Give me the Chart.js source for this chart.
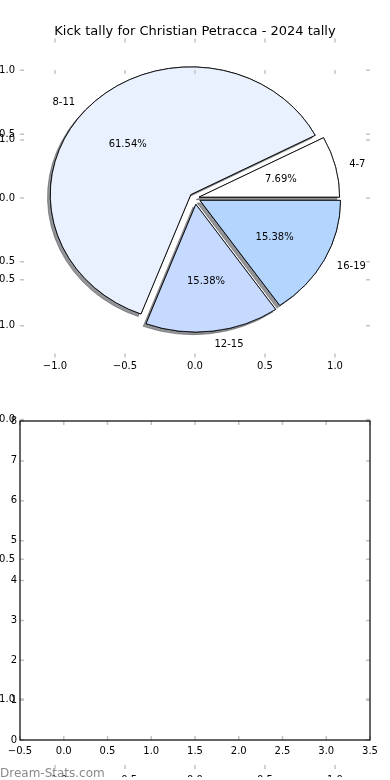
<!DOCTYPE html>
<html>
<head>
<meta charset="utf-8">
<script src="https://cdn.jsdelivr.net/npm/chart.js@4.4.1/dist/chart.umd.min.js"></script>
<style>
  html, body { margin: 0; padding: 0; background: #fff; }
  #wrap { position: relative; width: 390px; height: 780px; overflow: hidden; }
  #wrap canvas { position: absolute; left: 0; top: 0; }
</style>
</head>
<body>
<div id="wrap">
  <canvas id="pie-chart" width="390" height="780"></canvas>
  <canvas id="pie-axes" width="390" height="400"></canvas>
  <canvas id="fig-axes" width="390" height="780"></canvas>
  <canvas id="bar-chart" width="390" height="780"></canvas>
</div>
<script>
const chartTitle = 'Kick tally for Christian Petracca - 2024 tally';
const kickRanges = ['4-7', '8-11', '12-15', '16-19'];
const kickCounts = [1, 8, 2, 2];
const sliceColors = ['#ffffff', '#eaf1fe', '#c6d9fe', '#b4d5fe'];
const explodeAmounts = [0.03, 0.04, 0.05, 0.04];
const pieTicks = [-1.0, -0.5, 0.0, 0.5, 1.0];
const barXTicks = [-0.5, 0.0, 0.5, 1.0, 1.5, 2.0, 2.5, 3.0, 3.5];
const barYTicks = [0, 1, 2, 3, 4, 5, 6, 7, 8];
const barPositions = [0, 1, 2, 3];
const barValues = [0, 0, 0, 0];
const watermark = 'Dream-Stats.com';

// pie axes are not equal-aspect: 140.5px per unit across, 127.7px per unit down
const PIE_RADIUS = 140.5;
const PIE_Y_SCALE = 127.7 / 140.5;
const TICK_COLOR = '#c4c4c4';

Chart.defaults.font.family = '"DejaVu Sans", sans-serif';
Chart.defaults.font.size = 10;
Chart.defaults.color = '#000';

// matplotlib walks counter-clockwise from 3 o'clock, Chart.js walks clockwise
const order = kickRanges.map((_, i) => i).reverse();

function fmt1(v) {
  return v.toFixed(1).replace('-', '\u2212');
}

const explodedPie = {
  id: 'explodedPie',
  beforeDatasetsDraw(chart) {
    const ctx = chart.ctx;
    const arcs = chart.getDatasetMeta(0).data;
    const paint = (withShadow) => {
      arcs.forEach((arc, j) => {
        const mid = (arc.startAngle + arc.endAngle) / 2;
        const shift = explodeAmounts[order[j]] * arc.outerRadius;
        ctx.save();
        if (withShadow) {
          ctx.shadowColor = 'rgba(60, 62, 68, 0.55)';
          ctx.shadowOffsetX = -2.8;
          ctx.shadowOffsetY = 2.6;
          ctx.shadowBlur = 0;
        }
        ctx.translate(arc.x, arc.y);
        ctx.scale(1, PIE_Y_SCALE);
        ctx.translate(-arc.x, -arc.y);
        ctx.translate(Math.cos(mid) * shift, Math.sin(mid) * shift);
        arc.draw(ctx);
        ctx.restore();
      });
    };
    paint(true);
    paint(false);
    return false;
  },
  afterDraw(chart) {
    const ctx = chart.ctx;
    const arcs = chart.getDatasetMeta(0).data;
    const total = kickCounts.reduce((a, b) => a + b, 0);
    ctx.save();
    ctx.font = '10px "DejaVu Sans"';
    ctx.fillStyle = '#000';
    ctx.textBaseline = 'middle';
    arcs.forEach((arc, j) => {
      const i = order[j];
      const mid = (arc.startAngle + arc.endAngle) / 2;
      const r = arc.outerRadius;
      const at = (f) => ({
        x: arc.x + Math.cos(mid) * (f + explodeAmounts[i]) * r,
        y: arc.y + Math.sin(mid) * (f + explodeAmounts[i]) * r * PIE_Y_SCALE + 1,
      });
      const p = at(0.6);
      ctx.textAlign = 'center';
      ctx.fillText(((kickCounts[i] / total) * 100).toFixed(2) + '%', p.x, p.y);
      const q = at(1.1);
      ctx.textAlign = Math.cos(mid) >= 0 ? 'left' : 'right';
      ctx.fillText(kickRanges[i], q.x, q.y);
    });
    ctx.restore();
  },
};

// matplotlib classic ticks: short, inward, on all four sides
const innerTicks = {
  id: 'innerTicks',
  afterDraw(chart) {
    const { ctx, chartArea: a, scales } = chart;
    const len = 4;
    ctx.save();
    ctx.strokeStyle = TICK_COLOR;
    ctx.lineWidth = 1.5;
    ctx.beginPath();
    scales.x.ticks.forEach((t) => {
      const px = scales.x.getPixelForValue(t.value);
      ctx.moveTo(px, a.top);
      ctx.lineTo(px, a.top + len);
      ctx.moveTo(px, a.bottom);
      ctx.lineTo(px, a.bottom - len);
    });
    scales.y.ticks.forEach((t) => {
      const py = scales.y.getPixelForValue(t.value);
      ctx.moveTo(a.left, py);
      ctx.lineTo(a.left + len, py);
      ctx.moveTo(a.right, py);
      ctx.lineTo(a.right - len, py);
    });
    ctx.stroke();
    ctx.restore();
  },
};

const frameAndMark = {
  id: 'frameAndMark',
  afterDraw(chart) {
    const { ctx, chartArea: a } = chart;
    ctx.save();
    ctx.strokeStyle = '#000';
    ctx.lineWidth = 1.2;
    ctx.strokeRect(a.left, a.top, a.right - a.left, a.bottom - a.top);
    ctx.font = '12px "DejaVu Sans"';
    ctx.fillStyle = '#8a8a8a';
    ctx.textAlign = 'left';
    ctx.textBaseline = 'alphabetic';
    ctx.fillText(watermark, 0, 777);
    ctx.restore();
  },
};

function linearAxis(min, max, tickValues, format, pad, size, vertical) {
  return {
    type: 'linear',
    min,
    max,
    offset: false,
    grid: { display: false, drawTicks: false, offset: false },
    border: { display: false },
    afterBuildTicks: (scale) => {
      scale.ticks = tickValues.map((v) => ({ value: v }));
    },
    afterFit: (scale) => {
      if (vertical) scale.width = size;
      else scale.height = size;
    },
    ticks: {
      autoSkip: false,
      maxRotation: 0,
      minRotation: 0,
      padding: pad,
      color: '#000',
      font: { size: 10 },
      callback: (v) => format(v),
    },
  };
}

const baseOptions = {
  responsive: false,
  animation: false,
  devicePixelRatio: 1,
  events: [],
};

// the pie canvas spans the full width, so the title centres on the figure
new Chart(document.getElementById('pie-chart'), {
  type: 'pie',
  data: {
    labels: order.map((i) => kickRanges[i]),
    datasets: [
      {
        data: order.map((i) => kickCounts[i]),
        backgroundColor: order.map((i) => sliceColors[i]),
        borderColor: '#000',
        borderWidth: 0.9,
        borderJoinStyle: 'miter',
        radius: PIE_RADIUS,
      },
    ],
  },
  options: {
    ...baseOptions,
    rotation: 90,
    layout: { padding: { top: 0, left: 0, right: 0, bottom: 423.6 } },
    plugins: {
      legend: { display: false },
      tooltip: { enabled: false },
      title: {
        display: true,
        text: chartTitle,
        color: '#000',
        font: { size: 13, weight: 'normal' },
        padding: { top: 24, bottom: 0 },
      },
    },
  },
  plugins: [explodedPie],
});

new Chart(document.getElementById('pie-axes'), {
  type: 'scatter',
  data: { datasets: [{ data: [] }] },
  options: {
    ...baseOptions,
    layout: { padding: { top: 38.4, left: 0, right: 20, bottom: 0 } },
    scales: {
      x: linearAxis(-1.25, 1.25, pieTicks, fmt1, 3, 42.4, false),
      y: linearAxis(-1.25, 1.25, pieTicks, fmt1, 5, 20, true),
    },
    plugins: { legend: { display: false }, tooltip: { enabled: false } },
  },
  plugins: [innerTicks],
});

new Chart(document.getElementById('fig-axes'), {
  type: 'scatter',
  data: { datasets: [{ data: [] }] },
  options: {
    ...baseOptions,
    layout: { padding: { top: 70, left: 0, right: 20, bottom: 0 } },
    scales: {
      x: linearAxis(-1.25, 1.25, pieTicks, fmt1, 5, 8, false),
      y: linearAxis(-1.25, 1.25, pieTicks, fmt1, 5, 20, true),
    },
    plugins: { legend: { display: false }, tooltip: { enabled: false } },
  },
  plugins: [innerTicks],
});

new Chart(document.getElementById('bar-chart'), {
  type: 'bar',
  data: {
    datasets: [
      {
        data: barPositions.map((x, i) => ({ x, y: barValues[i] })),
        backgroundColor: '#b4d5fe',
        borderWidth: 0,
      },
    ],
  },
  options: {
    ...baseOptions,
    layout: { padding: { top: 421, left: 0, right: 20, bottom: 0 } },
    scales: {
      x: linearAxis(-0.5, 3.5, barXTicks, fmt1, 5, 40, false),
      y: linearAxis(0, 8, barYTicks, (v) => String(v), 3, 20, true),
    },
    plugins: { legend: { display: false }, tooltip: { enabled: false } },
  },
  plugins: [innerTicks, frameAndMark],
});
</script>
</body>
</html>
